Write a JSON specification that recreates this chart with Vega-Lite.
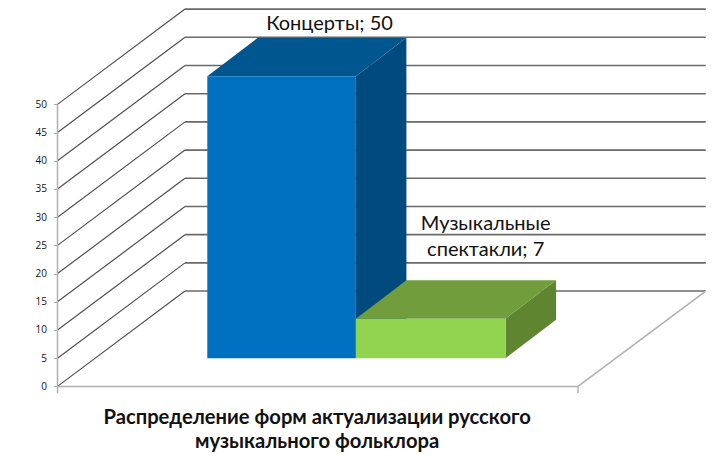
{
  "$schema": "https://vega.github.io/schema/vega-lite/v6.json",
  "width": 723,
  "height": 461,
  "autosize": {"type": "fit", "contains": "padding"},
  "padding": 0,
  "background": "white",
  "datasets": {
    "depthLines": [
      {"x": 0, "y": 0, "x2": 0.8546, "y2": 16.9},
      {"x": 0, "y": 5, "x2": 0.8546, "y2": 21.9},
      {"x": 0, "y": 10, "x2": 0.8546, "y2": 26.9},
      {"x": 0, "y": 15, "x2": 0.8546, "y2": 31.9},
      {"x": 0, "y": 20, "x2": 0.8546, "y2": 36.9},
      {"x": 0, "y": 25, "x2": 0.8546, "y2": 41.9},
      {"x": 0, "y": 30, "x2": 0.8546, "y2": 46.9},
      {"x": 0, "y": 35, "x2": 0.8546, "y2": 51.9},
      {"x": 0, "y": 40, "x2": 0.8546, "y2": 56.9},
      {"x": 0, "y": 45, "x2": 0.8546, "y2": 61.9},
      {"x": 0, "y": 50, "x2": 0.8546, "y2": 66.9}
    ],
    "backLines": [
      {"x": 0.8546, "y": 16.9, "x2": 4.345, "y2": 16.9},
      {"x": 0.8546, "y": 21.9, "x2": 4.345, "y2": 21.9},
      {"x": 0.8546, "y": 26.9, "x2": 4.345, "y2": 26.9},
      {"x": 0.8546, "y": 31.9, "x2": 4.345, "y2": 31.9},
      {"x": 0.8546, "y": 36.9, "x2": 4.345, "y2": 36.9},
      {"x": 0.8546, "y": 41.9, "x2": 4.345, "y2": 41.9},
      {"x": 0.8546, "y": 46.9, "x2": 4.345, "y2": 46.9},
      {"x": 0.8546, "y": 51.9, "x2": 4.345, "y2": 51.9},
      {"x": 0.8546, "y": 56.9, "x2": 4.345, "y2": 56.9},
      {"x": 0.8546, "y": 61.9, "x2": 4.345, "y2": 61.9},
      {"x": 0.8546, "y": 66.9, "x2": 4.345, "y2": 66.9}
    ],
    "frame": [
      {"x": 0, "y": 0, "x2": 3.4886, "y2": 0},
      {"x": 3.4886, "y": 0, "x2": 4.345, "y2": 16.9},
      {"x": 0, "y": -1.2, "x2": 0, "y2": 50},
      {"x": 3.4886, "y": -1.2, "x2": 3.4886, "y2": 0}
    ],
    "sides": [
      {"face": "blueSide", "x": 2, "y": 55, "y2": 5},
      {"face": "blueSide", "x": 2.3385, "y": 61.8, "y2": 11.8},
      {"face": "greenSide", "x": 3.003, "y": 12, "y2": 5},
      {"face": "greenSide", "x": 3.3415, "y": 18.8, "y2": 11.8}
    ],
    "tops": [
      {"face": "blueTop", "y": 55, "x": 1.004, "x2": 2},
      {"face": "blueTop", "y": 61.8, "x": 1.3425, "x2": 2.3385},
      {"face": "greenTop", "y": 12, "x": 2, "x2": 3.003},
      {"face": "greenTop", "y": 18.8, "x": 2.3385, "x2": 3.3415}
    ],
    "fronts": [
      {"face": "blueFront", "category": "Концерты", "value": 50, "x": 1.004, "x2": 2, "y": 5, "y2": 55},
      {"face": "greenFront", "category": "Музыкальные спектакли", "value": 7, "x": 2, "x2": 3.003, "y": 5, "y2": 12}
    ],
    "labels": [
      {"x": 1.823, "y": 64.25, "text": "Концерты; 50"},
      {"x": 2.87, "y": 28.8, "text": "Музыкальные"},
      {"x": 2.87, "y": 24.2, "text": "спектакли; 7"}
    ],
    "captions": [
      {"x": 1.74, "y": -5.6, "text": "Распределение форм актуализации русского"},
      {"x": 1.74, "y": -9.8, "text": "музыкального фольклора"}
    ]
  },
  "encoding": {
    "x": {"field": "x", "type": "quantitative", "scale": {"domain": [-0.3854, 4.4605]}, "axis": null},
    "y": {
      "field": "y",
      "type": "quantitative",
      "scale": {"domain": [-13.23, 68.51]},
      "axis": {
        "values": [0, 5, 10, 15, 20, 25, 30, 35, 40, 45, 50],
        "offset": -57.5,
        "domain": false,
        "grid": false,
        "title": null,
        "tickColor": "#aaaaaa",
        "tickSize": 4,
        "labelPadding": 7,
        "labelFont": "Open Sans",
        "labelFontSize": 10,
        "labelColor": "#111111"
      }
    }
  },
  "layer": [
    {
      "data": {"name": "backLines"},
      "mark": {"type": "rule", "color": "#6a6a6a", "strokeWidth": 1.6},
      "encoding": {"x2": {"field": "x2"}, "y2": {"field": "y2"}}
    },
    {
      "data": {"name": "depthLines"},
      "mark": {"type": "rule", "color": "#505050", "strokeWidth": 1.2},
      "encoding": {"x2": {"field": "x2"}, "y2": {"field": "y2"}}
    },
    {
      "data": {"name": "frame"},
      "mark": {"type": "rule", "color": "#b0b0b0", "strokeWidth": 1.5},
      "encoding": {"x2": {"field": "x2"}, "y2": {"field": "y2"}}
    },
    {
      "data": {"name": "sides"},
      "mark": {"type": "area", "orient": "vertical"},
      "encoding": {
        "y2": {"field": "y2"},
        "color": {
          "field": "face",
          "type": "nominal",
          "legend": null,
          "scale": {
            "domain": ["blueFront", "blueTop", "blueSide", "greenFront", "greenTop", "greenSide"],
            "range": ["#0070c0", "#00568f", "#004a7d", "#92d34f", "#719d3d", "#5f8530"]
          }
        }
      }
    },
    {
      "data": {"name": "tops"},
      "mark": {"type": "area", "orient": "horizontal"},
      "encoding": {
        "x2": {"field": "x2"},
        "color": {"field": "face", "type": "nominal", "legend": null}
      }
    },
    {
      "data": {"name": "fronts"},
      "mark": {"type": "rect"},
      "encoding": {
        "x2": {"field": "x2"},
        "y2": {"field": "y2"},
        "color": {"field": "face", "type": "nominal", "legend": null}
      }
    },
    {
      "data": {"name": "labels"},
      "mark": {"type": "text", "font": "Lato", "fontSize": 20, "color": "#111111", "align": "center", "baseline": "middle"},
      "encoding": {"text": {"field": "text"}}
    },
    {
      "data": {"name": "captions"},
      "mark": {"type": "text", "font": "Lato", "fontSize": 20.2, "fontWeight": "bold", "color": "#111111", "align": "center", "baseline": "middle"},
      "encoding": {"text": {"field": "text"}}
    }
  ],
  "config": {"view": {"stroke": null}}
}
